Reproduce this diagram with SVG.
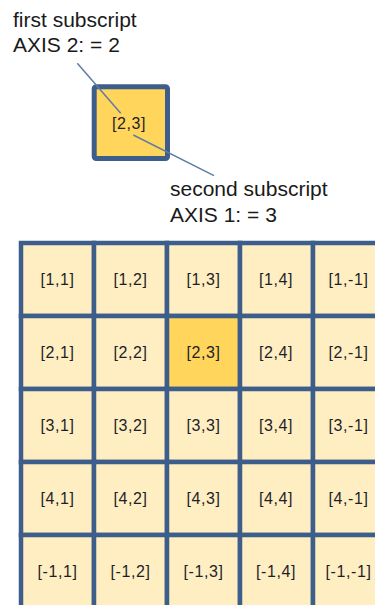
<svg xmlns="http://www.w3.org/2000/svg" width="375" height="605" viewBox="0 0 375 605">
<style>
.cell rect{fill:#FFEEC2;stroke:#3D5D8B;stroke-width:4.5}
.cell.hl rect{fill:#FFD55C}
.cell text{font-family:"Liberation Sans",Arial,sans-serif;font-size:16px;letter-spacing:0.6px;fill:#1E1E2A;text-anchor:middle}
.note{font-family:"Liberation Sans",Arial,sans-serif;font-size:21px;fill:#1A1A1A}
.conn line{stroke:#5F7DA2;stroke-width:1.5;fill:none}
</style>
<rect width="375" height="605" fill="#FFFFFF"/>
<g id="label-first">
<text class="note" x="13" y="26.5">first subscript</text>
<text class="note" x="13" y="52">AXIS 2: = 2</text>
</g>
<g id="label-second">
<text class="note" x="170" y="196">second subscript</text>
<text class="note" x="170" y="222">AXIS 1: = 3</text>
</g>
<g id="element-2-3" class="cell hl">
<rect x="94.2" y="86.8" width="73.3" height="71.7" rx="2" style="stroke-width:5"/>
<text x="129" y="128.5">[2,3]</text>
</g>
<g id="grid">
<g id="c11" class="cell"><rect x="21" y="243" width="73" height="73"/><text x="57.5" y="285">[1,1]</text></g>
<g id="c12" class="cell"><rect x="94" y="243" width="73" height="73"/><text x="130.5" y="285">[1,2]</text></g>
<g id="c13" class="cell"><rect x="167" y="243" width="73" height="73"/><text x="203.5" y="285">[1,3]</text></g>
<g id="c14" class="cell"><rect x="240" y="243" width="73" height="73"/><text x="276" y="285">[1,4]</text></g>
<g id="c15" class="cell"><rect x="313" y="243" width="73" height="73"/><text x="348.5" y="285">[1,-1]</text></g>
<g id="c21" class="cell"><rect x="21" y="316" width="73" height="73"/><text x="57.5" y="358">[2,1]</text></g>
<g id="c22" class="cell"><rect x="94" y="316" width="73" height="73"/><text x="130.5" y="358">[2,2]</text></g>
<g id="c23" class="cell hl"><rect x="167" y="316" width="73" height="73"/><text x="203.5" y="358">[2,3]</text></g>
<g id="c24" class="cell"><rect x="240" y="316" width="73" height="73"/><text x="276" y="358">[2,4]</text></g>
<g id="c25" class="cell"><rect x="313" y="316" width="73" height="73"/><text x="348.5" y="358">[2,-1]</text></g>
<g id="c31" class="cell"><rect x="21" y="389" width="73" height="73"/><text x="57.5" y="431">[3,1]</text></g>
<g id="c32" class="cell"><rect x="94" y="389" width="73" height="73"/><text x="130.5" y="431">[3,2]</text></g>
<g id="c33" class="cell"><rect x="167" y="389" width="73" height="73"/><text x="203.5" y="431">[3,3]</text></g>
<g id="c34" class="cell"><rect x="240" y="389" width="73" height="73"/><text x="276" y="431">[3,4]</text></g>
<g id="c35" class="cell"><rect x="313" y="389" width="73" height="73"/><text x="348.5" y="431">[3,-1]</text></g>
<g id="c41" class="cell"><rect x="21" y="462" width="73" height="73"/><text x="57.5" y="504">[4,1]</text></g>
<g id="c42" class="cell"><rect x="94" y="462" width="73" height="73"/><text x="130.5" y="504">[4,2]</text></g>
<g id="c43" class="cell"><rect x="167" y="462" width="73" height="73"/><text x="203.5" y="504">[4,3]</text></g>
<g id="c44" class="cell"><rect x="240" y="462" width="73" height="73"/><text x="276" y="504">[4,4]</text></g>
<g id="c45" class="cell"><rect x="313" y="462" width="73" height="73"/><text x="348.5" y="504">[4,-1]</text></g>
<g id="c51" class="cell"><rect x="21" y="535" width="73" height="73"/><text x="57.5" y="576.5">[-1,1]</text></g>
<g id="c52" class="cell"><rect x="94" y="535" width="73" height="73"/><text x="130.5" y="576.5">[-1,2]</text></g>
<g id="c53" class="cell"><rect x="167" y="535" width="73" height="73"/><text x="203.5" y="576.5">[-1,3]</text></g>
<g id="c54" class="cell"><rect x="240" y="535" width="73" height="73"/><text x="276" y="576.5">[-1,4]</text></g>
<g id="c55" class="cell"><rect x="313" y="535" width="73" height="73"/><text x="348.5" y="576.5">[-1,-1]</text></g>
</g>
<g id="connectors" class="conn">
<line x1="77.3" y1="63.3" x2="120.7" y2="113.3"/>
<line x1="133.3" y1="135" x2="214" y2="175.7"/>
</g>
</svg>
